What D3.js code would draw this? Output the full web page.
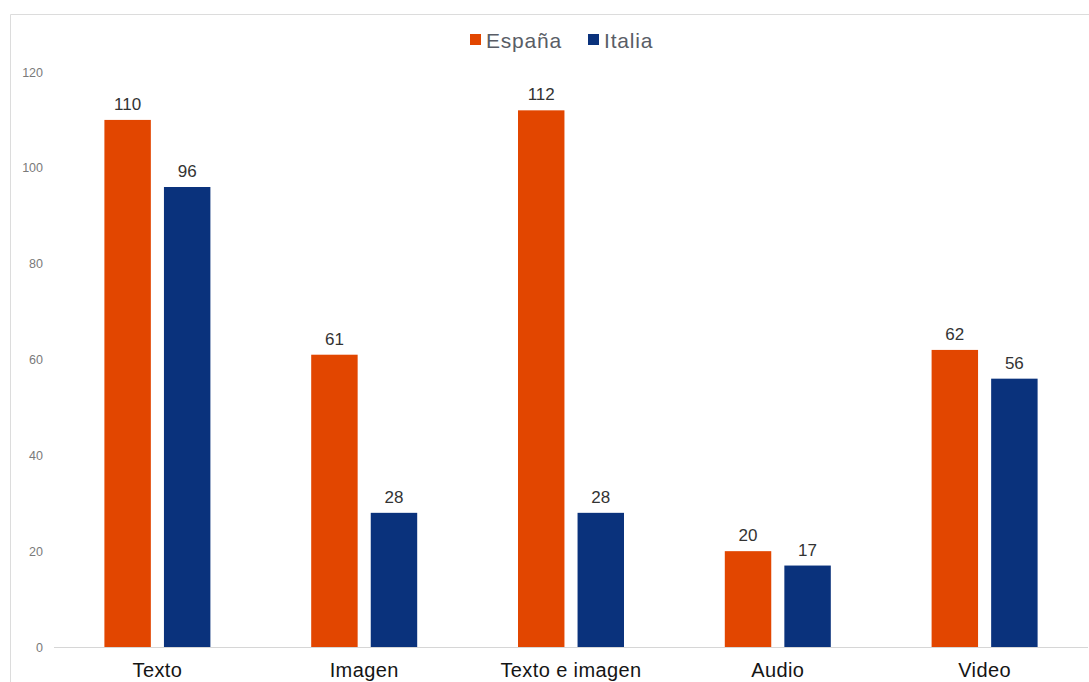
<!DOCTYPE html>
<html>
<head>
<meta charset="utf-8">
<script src="https://cdn.jsdelivr.net/npm/d3@7"></script>
<style>
  html, body { margin: 0; padding: 0; background: #fff; }
  svg { display: block; font-family: "Liberation Sans", Arial, sans-serif; }
</style>
</head>
<body>
<svg id="chart" width="1089" height="682"></svg>
<script>
const categories = ["Texto", "Imagen", "Texto e imagen", "Audio", "Video"];
const seriesNames = ["España", "Italia"];
const espana = [110, 61, 112, 20, 62];
const italia = [96, 28, 28, 17, 56];
const yTicks = [0, 20, 40, 60, 80, 100, 120];
const colors = ["#E24600", "#0A327C"];

const svg = d3.select("#chart");
const W = 1089, H = 682;

// outer frame (top and left edges visible)
svg.append("path")
  .attr("d", `M10.5,${H} V14.5 H${W}`)
  .attr("fill", "none")
  .attr("stroke", "#dcdcdc")
  .attr("stroke-width", 1);

const y = d3.scaleLinear().domain([0, 120]).range([647, 72]);
const x = d3.scaleBand().domain(categories).range([54, 1088]).paddingInner(0).paddingOuter(0);
const inner = d3.scaleBand().domain(seriesNames).range([x.step() / 2 - 53, x.step() / 2 + 53]).paddingInner(0.22);

// y axis labels
const yAxis = d3.axisLeft(y).tickValues(yTicks).tickSize(0).tickPadding(0);
const gy = svg.append("g").attr("transform", "translate(43,0)").call(yAxis);
gy.select(".domain").remove();
gy.selectAll("text").attr("fill", "#7a7a7a").attr("font-size", 12.5).attr("dy", "0.32em");

// baseline
svg.append("line")
  .attr("x1", 54).attr("x2", 1088)
  .attr("y1", y(0) + 0.5).attr("y2", y(0) + 0.5)
  .attr("stroke", "#d6d6d6");

const rows = categories.map((c, i) => ({ cat: c, vals: [espana[i], italia[i]] }));

const groups = svg.selectAll("g.cat").data(rows).join("g")
  .attr("class", "cat")
  .attr("transform", d => `translate(${x(d.cat)},0)`);

groups.selectAll("rect").data(d => d.vals.map((v, j) => ({ v, s: seriesNames[j], j }))).join("rect")
  .attr("x", d => inner(d.s))
  .attr("width", inner.bandwidth())
  .attr("y", d => y(d.v))
  .attr("height", d => y(0) - y(d.v))
  .attr("fill", d => colors[d.j]);

groups.selectAll("text.val").data(d => d.vals.map((v, j) => ({ v, s: seriesNames[j], j }))).join("text")
  .attr("class", "val")
  .attr("x", d => inner(d.s) + inner.bandwidth() / 2)
  .attr("y", d => y(d.v) - 10)
  .attr("text-anchor", "middle")
  .attr("font-size", 17)
  .attr("fill", "#333")
  .text(d => d.v);

// category labels
const xAxis = d3.axisBottom(x).tickSize(0).tickPadding(0);
const gx = svg.append("g").attr("transform", `translate(0,${y(0)})`).call(xAxis);
gx.select(".domain").remove();
gx.selectAll("text")
  .attr("fill", "#151515")
  .attr("font-size", 20)
  .attr("letter-spacing", "0.4px")
  .attr("y", 30)
  .attr("dy", 0);

// legend
const legend = svg.append("g").attr("transform", "translate(470,40)");
const legendX = [0, 118];
seriesNames.forEach((n, i) => {
  const g = legend.append("g").attr("transform", `translate(${legendX[i]},0)`);
  g.append("rect").attr("x", 0).attr("y", -6).attr("width", 11).attr("height", 11).attr("fill", colors[i]);
  g.append("text").attr("x", 16).attr("y", 0).attr("dy", "0.36em")
    .attr("font-size", 21).attr("letter-spacing", "0.8px")
    .attr("fill", "#595d66").text(n);
});
</script>
</body>
</html>
